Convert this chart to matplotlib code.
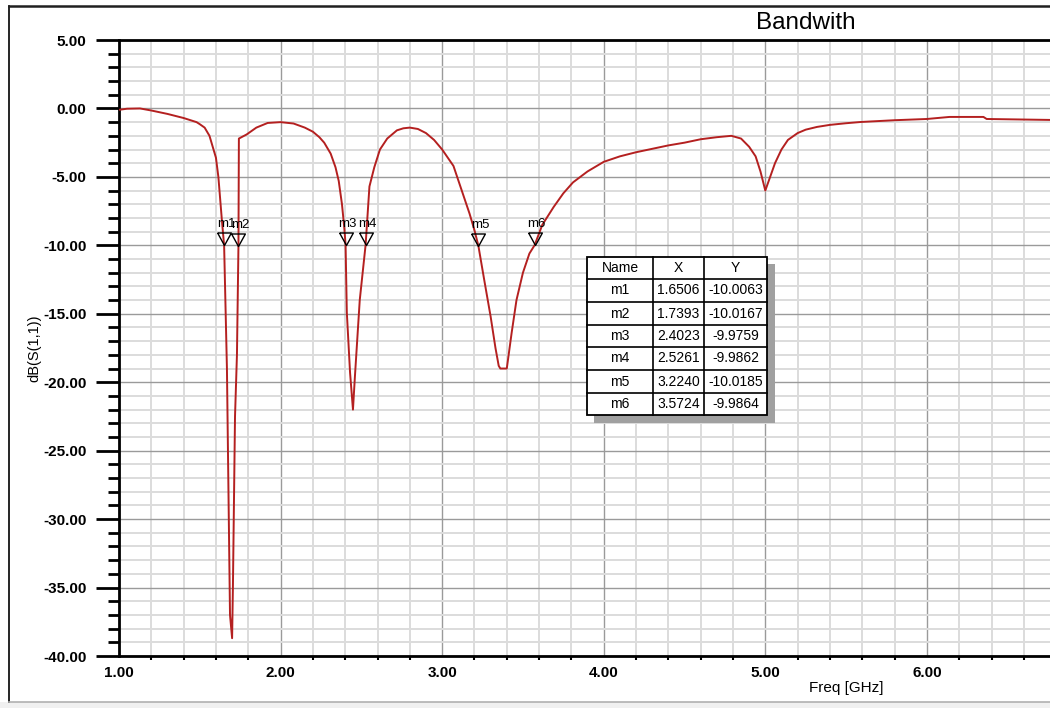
import matplotlib
matplotlib.use("Agg")
import matplotlib.pyplot as plt
from matplotlib.lines import Line2D
from matplotlib.patches import Rectangle
from matplotlib.ticker import MultipleLocator, FormatStrFormatter

plt.rcParams['font.family'] = ['Liberation Sans', 'DejaVu Sans']

# S11 trace
freq = [1.00, 1.05, 1.13, 1.20, 1.30, 1.40, 1.48, 1.50, 1.53, 1.56, 1.58,
        1.60, 1.615, 1.637, 1.6506, 1.668, 1.687, 1.700, 1.705, 1.718, 1.730,
        1.7393, 1.742, 1.79, 1.85, 1.92, 2.00, 2.08, 2.15, 2.20, 2.24, 2.27,
        2.31, 2.34, 2.36, 2.38, 2.395, 2.4023, 2.41, 2.43, 2.448, 2.46, 2.49,
        2.5261, 2.55, 2.58, 2.615, 2.66, 2.72, 2.76, 2.80, 2.85, 2.90, 2.95,
        3.00, 3.07, 3.13, 3.17, 3.20, 3.224, 3.26, 3.30, 3.33, 3.35, 3.36,
        3.40, 3.43, 3.46, 3.50, 3.54, 3.5724, 3.62, 3.69, 3.75, 3.81, 3.90,
        4.00, 4.10, 4.20, 4.30, 4.40, 4.50, 4.60, 4.70, 4.79, 4.85, 4.90,
        4.94, 4.97, 5.00, 5.03, 5.06, 5.10, 5.14, 5.20, 5.25, 5.32, 5.40,
        5.50, 5.59, 5.80, 6.00, 6.14, 6.35, 6.37, 6.77]
s11 = [-0.1, -0.02, 0.0, -0.15, -0.4, -0.7, -1.0, -1.15, -1.4, -2.0, -2.8,
       -3.6, -5.0, -8.2, -10.0063, -19.0, -37.0, -38.7, -35.0, -22.5, -18.0,
       -10.0167, -2.2, -1.9, -1.4, -1.06, -1.0, -1.1, -1.4, -1.7, -2.1, -2.5,
       -3.3, -4.3, -5.3, -7.0, -8.8, -9.9759, -14.9, -19.3, -22.0, -19.6, -14.0,
       -9.9862, -5.7, -4.3, -3.0, -2.2, -1.6, -1.45, -1.4, -1.5, -1.8, -2.3,
       -3.0, -4.2, -6.3, -7.7, -8.9, -10.0185, -12.5, -15.2, -17.5, -18.8, -19.0,
       -19.0, -16.4, -14.0, -12.0, -10.6, -9.9864, -8.5, -7.2, -6.2, -5.4, -4.6,
       -3.9, -3.5, -3.2, -2.95, -2.7, -2.5, -2.25, -2.1, -2.0, -2.2, -2.8,
       -3.5, -4.6, -6.0, -5.0, -4.0, -3.0, -2.3, -1.8, -1.55, -1.35, -1.2,
       -1.08, -0.99, -0.86, -0.77, -0.62, -0.62, -0.77, -0.84]

# markers
m_names = ['m1', 'm2', 'm3', 'm4', 'm5', 'm6']
m_x = [1.6506, 1.7393, 2.4023, 2.5261, 3.2240, 3.5724]
m_y = [-10.0063, -10.0167, -9.9759, -9.9862, -10.0185, -9.9864]

W, H = 1050, 708
fig = plt.figure(figsize=(W / 100, H / 100), dpi=100)
ax = fig.add_axes([119 / W, 1 - 656 / H, 1 - 119 / W, 616 / H])

ax.plot(freq, s11, color='#b42020', lw=1.4, zorder=3)

# triangle markers, tip sitting on the point
tri = [(-0.55, 1.0), (0.55, 1.0), (0.0, 0.0), (-0.55, 1.0)]
ax.plot(m_x, m_y, ls='none', marker=tri, ms=18, mfc='none', mec='black',
        mew=1.0, zorder=4)
for n, x, y in zip(m_names, m_x, m_y):
    ax.annotate(n, (x, y), xytext=(-7, 15), textcoords='offset pixels',
                ha='left', va='bottom', fontsize=9.5, zorder=5)

ax.set_xlim(1.0, 6.762)
ax.set_ylim(-40, 5)
ax.xaxis.set_major_locator(MultipleLocator(1.0))
ax.xaxis.set_minor_locator(MultipleLocator(0.2))
ax.yaxis.set_major_locator(MultipleLocator(5.0))
ax.yaxis.set_minor_locator(MultipleLocator(1.0))
ax.xaxis.set_major_formatter(FormatStrFormatter('%.2f'))
ax.yaxis.set_major_formatter(FormatStrFormatter('%.2f'))

ax.grid(which='minor', color='#dcdcdc', lw=1.4, zorder=0)
ax.grid(which='major', color='#9a9a9a', lw=1.0, zorder=1)
ax.set_axisbelow(True)

for s in ['left', 'bottom', 'top']:
    ax.spines[s].set_linewidth(2)
    ax.spines[s].set_color('black')
ax.spines['right'].set_visible(False)

ax.tick_params(axis='y', which='major', length=16.5, width=2, pad=7,
               labelsize=11)
ax.tick_params(axis='y', which='minor', length=8, width=2)
ax.tick_params(axis='x', which='major', length=0, pad=7, labelsize=11)
ax.tick_params(axis='x', which='minor', length=3, width=1.5)
for lab in ax.get_xticklabels() + ax.get_yticklabels():
    lab.set_fontweight('bold')

ax.set_ylabel('dB(S(1,1))', fontsize=10.5)
ax.yaxis.set_label_coords((41 - 119) / 931, 0.5)
fig.text(846 / W, 1 - 688 / H, 'Freq [GHz]', ha='center', va='center',
         fontsize=11)
fig.text(806 / W, 1 - 23 / H, 'Bandwith', ha='center', va='center',
         fontsize=17.5)

# marker table
def px(x, y):
    return x / W, 1 - y / H

cols = [587, 653, 704, 767]
rows = [257, 279, 302, 325, 347, 370, 393, 415]
fig.patches.append(Rectangle(px(594, 423), (775 - 594) / W, (423 - 264) / H,
                             transform=fig.transFigure, facecolor='#a0a0a0',
                             edgecolor='none', zorder=6))
fig.patches.append(Rectangle(px(cols[0], rows[-1]), (cols[-1] - cols[0]) / W,
                             (rows[-1] - rows[0]) / H, transform=fig.transFigure,
                             facecolor='white', edgecolor='black', lw=1.3,
                             zorder=7))
for c in cols[1:-1]:
    fig.lines.append(Line2D([c / W] * 2, [1 - rows[0] / H, 1 - rows[-1] / H],
                            transform=fig.transFigure, color='black', lw=1.2,
                            zorder=8))
for r in rows[1:-1]:
    fig.lines.append(Line2D([cols[0] / W, cols[-1] / W], [1 - r / H] * 2,
                            transform=fig.transFigure, color='black', lw=1.2,
                            zorder=8))
cells = [['Name', 'X', 'Y']] + [[n, '%.4f' % x, '%.4f' % y]
                                for n, x, y in zip(m_names, m_x, m_y)]
for i, row in enumerate(cells):
    yc = (rows[i] + rows[i + 1]) / 2
    for j, t in enumerate(row):
        xc = (cols[j] + cols[j + 1]) / 2
        fig.text(xc / W, 1 - yc / H, t, ha='center', va='center',
                 fontsize=10, zorder=9)

# window frame
fig.lines.append(Line2D([9 / W, 9 / W], [1 - 6 / H, 1 - 702 / H],
                        transform=fig.transFigure, color='black', lw=1.2))
fig.lines.append(Line2D([9 / W, 1.0], [1 - 6 / H, 1 - 6 / H],
                        transform=fig.transFigure, color='#202020', lw=1.8))
fig.patches.append(Rectangle((0, 0), 1, 6 / H, transform=fig.transFigure,
                             facecolor='#f0f0f0', edgecolor='none'))
fig.lines.append(Line2D([9 / W, 1.0], [1 - 702 / H] * 2,
                        transform=fig.transFigure, color='#b0b0b0', lw=1.2))

fig.savefig('out.png', dpi=100)
